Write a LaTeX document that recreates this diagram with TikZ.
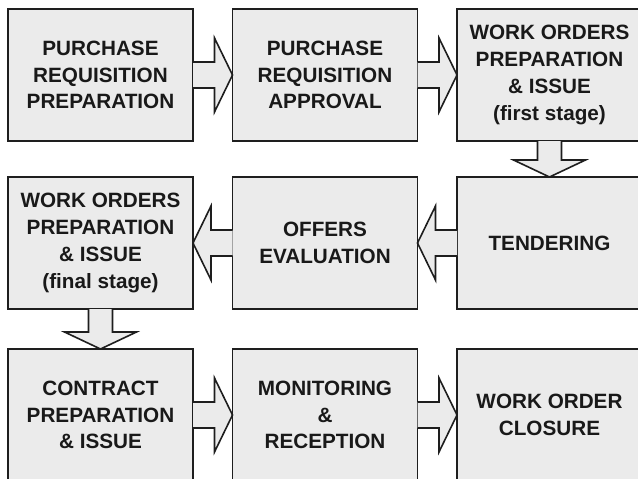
\documentclass[tikz,border=0pt]{standalone}
\usepackage{fontspec}
\setmainfont{Liberation Sans}
\usetikzlibrary{calc}
\definecolor{boxfill}{HTML}{EBEBEB}
\definecolor{edge}{HTML}{1E1E1E}
\tikzset{
  stepbox/.style={draw=edge, fill=boxfill, line width=1.8pt, minimum width=185pt,
    minimum height=132pt, inner sep=0pt, outer sep=0pt, align=center,
    font=\fontsize{20.7}{26.8}\selectfont\bfseries, text=black!90},
  blockarrow/.style={draw=edge, fill=boxfill, line width=1.6pt, line join=miter}
}
\begin{document}
\begin{tikzpicture}[x=1pt, y=-1pt]
  \useasboundingbox (0,0) rectangle (638,479);

  % row 1
  \node[stepbox] (pr)  at (100.5,75) {PURCHASE\\REQUISITION\\PREPARATION};
  \node[stepbox] (pa)  at (325,75)   {PURCHASE\\REQUISITION\\APPROVAL};
  \node[stepbox] (wo1) at (549.5,75) {WORK ORDERS\\PREPARATION\\\& ISSUE\\(first stage)};
  % row 2
  \node[stepbox] (wo2) at (100.5,243) {WORK ORDERS\\PREPARATION\\\& ISSUE\\(final stage)};
  \node[stepbox] (oe)  at (325,243)   {OFFERS\\EVALUATION};
  \node[stepbox] (td)  at (549.5,243) {TENDERING};
  % row 3
  \node[stepbox] (cp)  at (100.5,415) {CONTRACT\\PREPARATION\\\& ISSUE};
  \node[stepbox] (mr)  at (325,415)   {MONITORING\\\&\\RECEPTION};
  \node[stepbox] (wc)  at (549.5,415) {WORK ORDER\\CLOSURE};

  % right-pointing block arrows
  \foreach \a/\b in {pr/pa, pa/wo1, cp/mr, mr/wc}{
    \draw[blockarrow] ($(\a.east)+(0,-13)$) -- ($(\b.west)+(-18,-13)$)
      -- ($(\b.west)+(-18,-37)$) -- (\b.west) -- ($(\b.west)+(-18,37)$)
      -- ($(\b.west)+(-18,13)$) -- ($(\a.east)+(0,13)$);
  }
  % left-pointing block arrows
  \foreach \a/\b in {td/oe, oe/wo2}{
    \draw[blockarrow] ($(\a.west)+(0,-13)$) -- ($(\b.east)+(18,-13)$)
      -- ($(\b.east)+(18,-37)$) -- (\b.east) -- ($(\b.east)+(18,37)$)
      -- ($(\b.east)+(18,13)$) -- ($(\a.west)+(0,13)$);
  }
  % downward block arrows
  \foreach \a/\b in {wo1/td, wo2/cp}{
    \draw[blockarrow] ($(\a.south)+(-12,0)$) -- ($(\b.north)+(-12,-17)$)
      -- ($(\b.north)+(-36,-17)$) -- (\b.north) -- ($(\b.north)+(36,-17)$)
      -- ($(\b.north)+(12,-17)$) -- ($(\a.south)+(12,0)$);
  }
\end{tikzpicture}
\end{document}
